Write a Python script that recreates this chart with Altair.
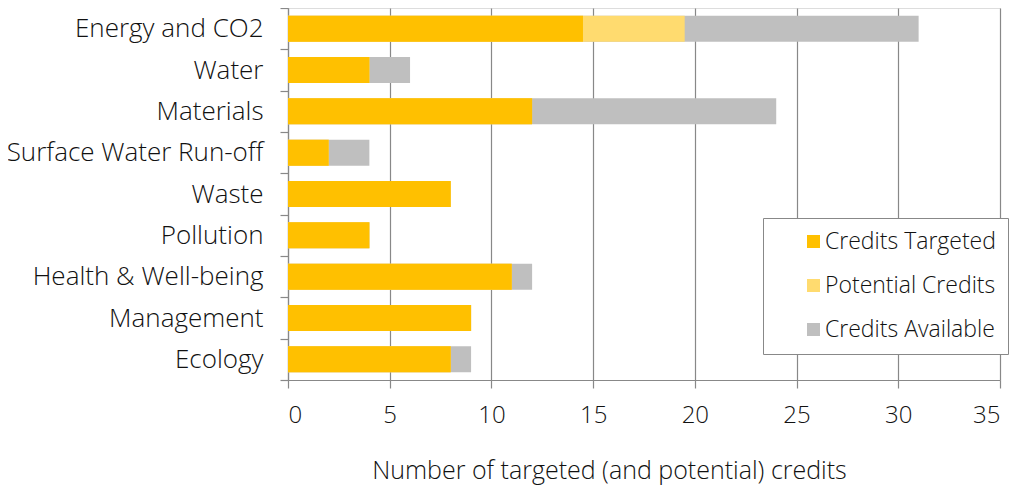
import altair as alt
import pandas as pd

categories = ["Energy and CO2", "Water", "Materials", "Surface Water Run-off",
              "Waste", "Pollution", "Health & Well-being", "Management", "Ecology"]
credits_targeted = [14.5, 4, 12, 2, 8, 4, 11, 9, 8]
potential_credits = [19.5, 4, 12, 2, 8, 4, 11, 9, 8]
credits_available = [31, 6, 24, 4, 8, 4, 12, 9, 9]
series = ["Credits Targeted", "Potential Credits", "Credits Available"]
colors = ["#FFC000", "#FFDB6F", "#BFBFBF"]
x_ticks = [0, 5, 10, 15, 20, 25, 30, 35]

rows = []
for name, vals in [("Credits Available", credits_available),
                   ("Potential Credits", potential_credits),
                   ("Credits Targeted", credits_targeted)]:
    for c, v in zip(categories, vals):
        rows.append({"category": c, "series": name, "value": v})
df = pd.DataFrame(rows)

FONT = "Open Sans"
GRAY = "#888888"
TXT = "#111111"

chart = alt.Chart(df).mark_bar(size=26).encode(
    y=alt.Y("category:N", sort=categories,
            scale=alt.Scale(paddingInner=0, paddingOuter=0),
            axis=alt.Axis(title=None, tickBand="extent", tickSize=8, tickColor=GRAY,
                          domainColor=GRAY, domainWidth=1.2, tickWidth=1.2,
                          labelFontSize=26, labelPadding=17, labelColor=TXT,
                          labelFont=FONT, labelFontWeight=300, labelLimit=300)),
    x=alt.X("value:Q", stack=None,
            scale=alt.Scale(domain=[0, 35], nice=False),
            axis=alt.Axis(values=x_ticks, title="Number of targeted (and potential) credits",
                          grid=True, gridColor=GRAY, gridWidth=1.2,
                          tickSize=8, tickColor=GRAY, tickWidth=1.2,
                          domainColor=GRAY, domainWidth=1.2,
                          labelFontSize=24, labelPadding=15, labelColor=TXT,
                          labelFont=FONT, labelFontWeight=300,
                          titleFontSize=25, titleFont=FONT, titleFontWeight=300,
                          titleColor=TXT, titleX=321, titleY=98,
                          titleAlign="center", titleBaseline="alphabetic")),
    color=alt.Color("series:N",
                    scale=alt.Scale(domain=series, range=colors),
                    legend=alt.Legend(title=None, orient="none", legendX=475, legendY=210,
                                      strokeColor=GRAY, fillColor="white", padding=12,
                                      symbolType="square", symbolSize=169,
                                      symbolStrokeWidth=0, symbolOffset=27, labelOffset=0,
                                      labelFontSize=23, labelFont=FONT, labelFontWeight=300,
                                      labelColor=TXT, rowPadding=20, labelLimit=400)),
).properties(
    width=712, height=372,
    autosize=alt.AutoSizeParams(type="none"),
    padding={"left": 280, "top": 0, "right": 20, "bottom": 106},
).configure_view(stroke=None).configure(font=FONT)

chart.save("out.html", embed_options={"renderer": "svg", "actions": False})
